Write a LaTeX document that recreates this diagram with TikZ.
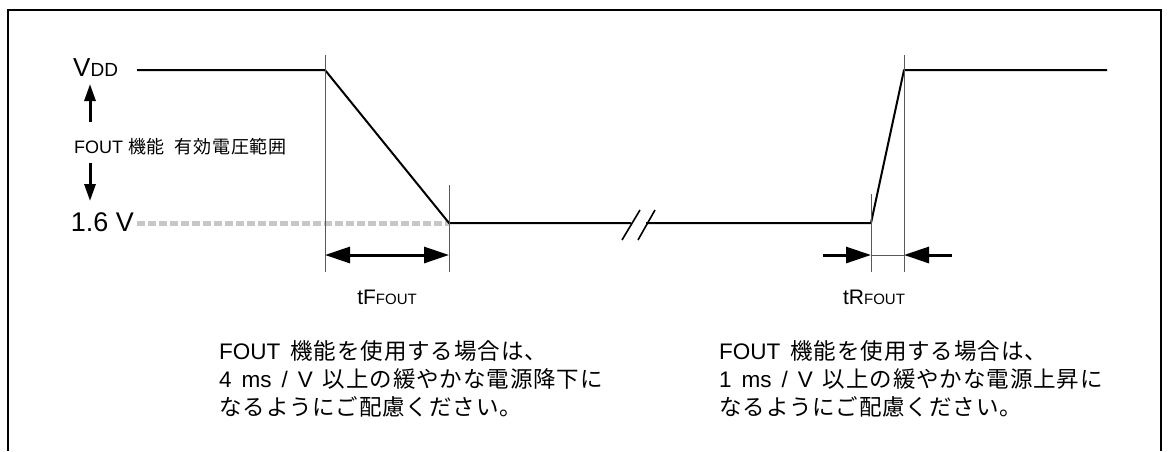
\documentclass[tikz,border=0pt]{standalone}
\usepackage{fontspec}
\setmainfont{Liberation Sans}
\newfontfamily\jp[LetterSpace=4]{Noto Sans CJK JP}
\usetikzlibrary{arrows.meta}

\begin{document}
\begin{tikzpicture}[x=1pt,y=-1pt,
  wave/.style={line width=2pt,line join=round},
  guide/.style={line width=0.8pt,black!65},
  dim/.style={line width=3pt,-{Triangle[length=25pt,width=16pt]}},
  updown/.style={line width=3pt,-{Triangle[length=17pt,width=11pt]}},
  lbl/.style={inner sep=0pt}]
\useasboundingbox (0,0) rectangle (1168,451);
\draw[line width=2pt] (8,451) -- (8,10) -- (1161,10) -- (1161,451);
% waveform corners
\coordinate (hiL) at (137,70);
\coordinate (fallTop) at (325,70);
\coordinate (fallBot) at (449,223);
\coordinate (lvl) at (137,223);
\coordinate (brkL) at (631,223);
\coordinate (brkR) at (646,223);
\coordinate (riseBot) at (871,223);
\coordinate (riseTop) at (904,70);
\coordinate (hiR) at (1107,70);
\draw[line width=5pt,black!22,dash pattern=on 8pt off 3pt] (lvl) -- (fallBot);
\draw[wave] (hiL) -- (fallTop) -- (fallBot) -- (brkL);
\draw[wave] (brkR) -- (riseBot) -- (riseTop) -- (hiR);
\draw[line width=1.6pt] (622,240) -- (640,210);
\draw[line width=1.6pt] (638,240) -- (655,210);
% guide lines
\draw[guide] (fallTop) ++(0,-15) -- ++(0,217);
\draw[guide] (fallBot) ++(0,-38) -- ++(0,87);
\draw[guide] (riseBot) ++(0,-29) -- ++(0,78);
\draw[guide] (riseTop) ++(0,-15) -- ++(0,217);
% timing arrows
\coordinate (tfA) at (325,255);
\coordinate (tfB) at (449,255);
\coordinate (trA) at (871,255);
\coordinate (trB) at (904,255);
\coordinate (trL) at (823,255);
\coordinate (trR) at (952,255);
\draw[dim,{Triangle[length=25pt,width=16pt]}-{Triangle[length=25pt,width=16pt]}] (tfA) -- (tfB);
\draw[dim] (trL) -- (trA);
\draw[dim] (trR) -- (trB);
\draw[guide] (trA) -- (trB);
% voltage range
\coordinate (upA) at (90,122);
\coordinate (upB) at (90,84);
\coordinate (dnA) at (90,163);
\coordinate (dnB) at (90,201);
\draw[updown] (upA) -- (upB);
\draw[updown] (dnA) -- (dnB);
\node[lbl,anchor=base west] (vdd) at (73,76) {\fontsize{26}{26}\selectfont V\fontsize{19}{19}\selectfont DD};
\node[lbl,anchor=base east] (vlow) at (134,231) {\fontsize{27}{27}\selectfont 1.6 V};
\node[lbl,anchor=base west] (range) at (74,153) {\fontsize{18}{18}\selectfont FOUT {\jp 機能}\hspace{10pt}{\jp 有効電圧範囲}};
\node[lbl,anchor=base] (tf) at (387,304) {\fontsize{21}{21}\selectfont tF\fontsize{15}{15}\selectfont FOUT};
\node[lbl,anchor=base] (tr) at (874,304) {\fontsize{21}{21}\selectfont tR\fontsize{15}{15}\selectfont FOUT};
% notes
\node[lbl,anchor=north west,align=left,font=\fontsize{22.5}{28}\selectfont] (noteF) at (219,340)
  {FOUT\, {\jp 機能を使用する場合は、}\\4\, ms\, /\, V\, {\jp 以上の緩やかな電源降下に}\\{\jp なるようにご配慮ください。}};
\node[lbl,anchor=north west,align=left,font=\fontsize{22.5}{28}\selectfont] (noteR) at (719,340)
  {FOUT\, {\jp 機能を使用する場合は、}\\1\, ms\, /\, V\, {\jp 以上の緩やかな電源上昇に}\\{\jp なるようにご配慮ください。}};
\end{tikzpicture}
\end{document}
